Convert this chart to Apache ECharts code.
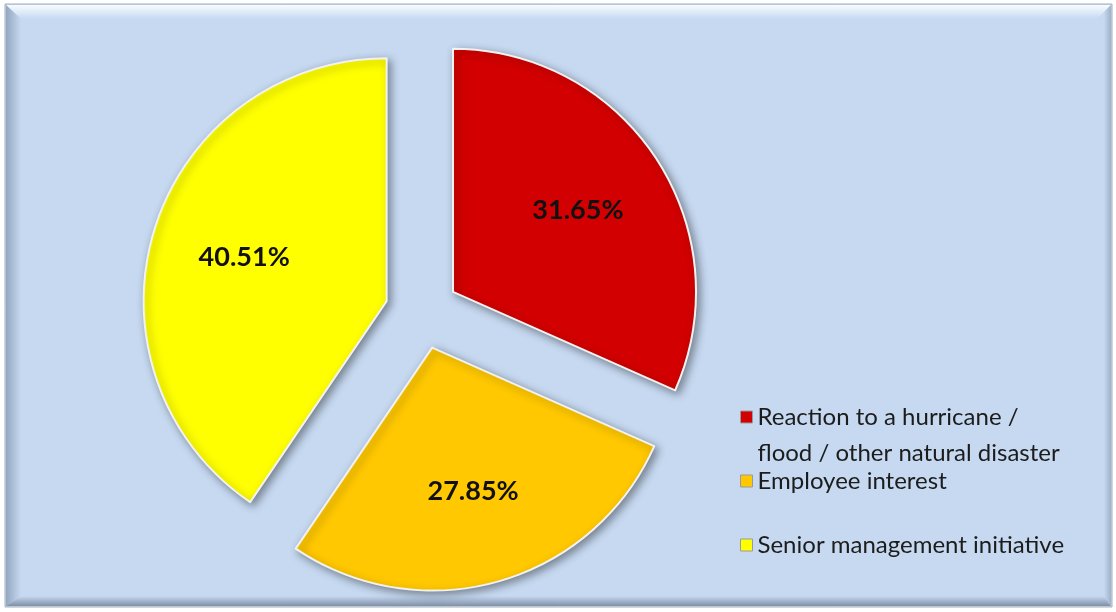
<!DOCTYPE html>
<html>
<head>
<meta charset="utf-8">
<script src="https://cdn.jsdelivr.net/npm/echarts@6/dist/echarts.min.js"></script>
<style>
  html, body { margin: 0; padding: 0; background: #ffffff; }
  #chart { width: 1116px; height: 612px; }
</style>
</head>
<body>
<div id="chart"></div>
<script>
// Share of responses by what prompted the continuity programme
const categories = [
  'Reaction to a hurricane /\nflood / other natural disaster',
  'Employee interest',
  'Senior management initiative'
];
const shares = [31.65, 27.85, 40.51];
const sliceColors = ['#D20000', '#FFC800', '#FFFF00'];

const chart = echarts.init(document.getElementById('chart'), null, { renderer: 'canvas' });

const BG = '#C6D9F1';
const pieCenter = [422, 312];
const pieRadius = 243;
const explode = 37;

function lin(x2, y2, c0, c1) {
  return new echarts.graphic.LinearGradient(0, 0, x2, y2, [
    { offset: 0, color: c0 }, { offset: 1, color: c1 }
  ]);
}

const sliceData = categories.map((name, i) => ({
  name: name,
  value: shares[i],
  selected: true,
  itemStyle: { color: sliceColors[i] }
}));

// invisible twin used only to place the percentage labels a bit further out
const labelData = categories.map((name, i) => ({
  name: name,
  value: shares[i],
  selected: true
}));

const legendText = {
  fontFamily: 'Lato',
  fontSize: 24,
  color: '#1c1c1c'
};

function legendFor(i, top, extra, formatter) {
  const lg = {
    data: [categories[i]],
    left: 735,
    top: top,
    orient: 'vertical',
    icon: 'rect',
    itemWidth: 12,
    itemHeight: 12,
    selectedMode: false,
    itemStyle: { borderWidth: 1, borderColor: '#9a9a9a', shadowBlur: 0, shadowOffsetX: 0, shadowOffsetY: 0 },
    textStyle: Object.assign({}, legendText, extra)
  };
  if (formatter) lg.formatter = formatter;
  return lg;
}

const option = {
  animation: false,
  backgroundColor: '#ffffff',
  graphic: [
    { type: 'rect', z: 0, shape: { x: 5, y: 4, width: 1107, height: 603 },
      style: { fill: BG, stroke: '#a8b0ba', lineWidth: 1 } },
    { type: 'polygon', z: 1, shape: { points: [[6, 5], [1111, 5], [1097, 19], [21, 19]] },
      style: { fill: lin(0, 1, '#f7fdff', BG) } },
    { type: 'polygon', z: 1, shape: { points: [[6, 5], [21, 19], [21, 596], [6, 606]] },
      style: { fill: lin(1, 0, '#93a7c0', BG) } },
    { type: 'polygon', z: 1, shape: { points: [[6, 606], [21, 596], [1104, 596], [1111, 606]] },
      style: { fill: lin(0, 1, BG, '#7f91a7') } },
    { type: 'polygon', z: 1, shape: { points: [[1111, 5], [1104, 12], [1104, 596], [1111, 606]] },
      style: { fill: lin(1, 0, BG, '#9fb2c9') } }
  ],
  legend: [
    // leading blank line keeps the icon level with the first text line
    legendFor(0, 358, { lineHeight: 36 }, name => '\n' + name),
    legendFor(1, 461, { lineHeight: 30 }),
    legendFor(2, 525, { lineHeight: 30 })
  ],
  series: [
    {
      type: 'pie',
      center: pieCenter,
      radius: [0, pieRadius],
      startAngle: 90,
      clockwise: true,
      selectedMode: 'multiple',
      selectedOffset: explode,
      avoidLabelOverlap: false,
      silent: true,
      label: { show: false },
      labelLine: { show: false },
      itemStyle: {
        borderColor: '#f2f2f2',
        borderWidth: 2,
        shadowBlur: 8,
        shadowColor: 'rgba(0,0,0,0.4)',
        shadowOffsetX: 3,
        shadowOffsetY: 3
      },
      emphasis: { disabled: true },
      data: sliceData,
      z: 2
    },
    {
      type: 'pie',
      center: pieCenter,
      radius: [49, pieRadius],
      startAngle: 90,
      clockwise: true,
      selectedMode: 'multiple',
      selectedOffset: explode,
      avoidLabelOverlap: false,
      silent: true,
      legendHoverLink: false,
      itemStyle: { color: 'rgba(0,0,0,0)', borderWidth: 0 },
      label: {
        show: true,
        position: 'inside',
        formatter: p => p.value.toFixed(2) + '%',
        fontFamily: 'Lato',
        fontWeight: 'bold',
        fontSize: 27,
        color: '#111111'
      },
      labelLine: { show: false },
      emphasis: { disabled: true },
      data: labelData,
      z: 3
    }
  ]
};

chart.setOption(option);
</script>
</body>
</html>
